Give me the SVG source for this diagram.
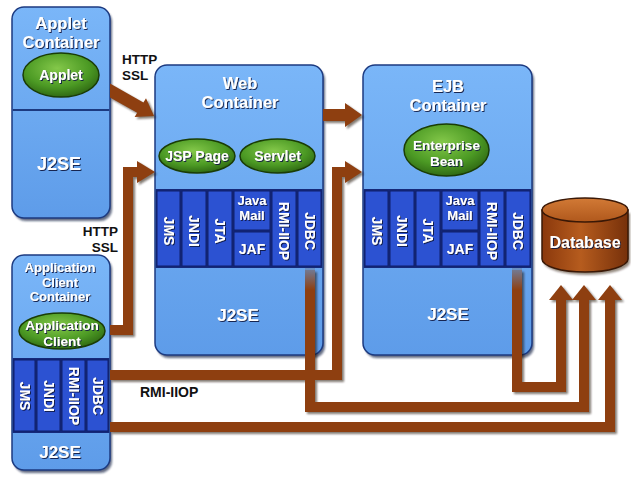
<svg xmlns="http://www.w3.org/2000/svg" width="631" height="480" viewBox="0 0 631 480">
<defs>
<linearGradient id="cont" x1="0" y1="0" x2="0" y2="1">
<stop offset="0" stop-color="#7ab6f8"/><stop offset="1" stop-color="#5e9ce9"/>
</linearGradient>
<radialGradient id="green" cx="0.45" cy="0.35" r="0.7">
<stop offset="0" stop-color="#84c84a"/><stop offset="0.6" stop-color="#4c9a24"/><stop offset="1" stop-color="#2a6010"/>
</radialGradient>
<linearGradient id="dbbody" x1="0" y1="0" x2="1" y2="0">
<stop offset="0" stop-color="#8a380c"/><stop offset="0.45" stop-color="#b65c1e"/><stop offset="1" stop-color="#76300a"/>
</linearGradient>
<linearGradient id="dbtop" x1="0" y1="0" x2="0" y2="1">
<stop offset="0" stop-color="#d27a36"/><stop offset="1" stop-color="#b0581c"/>
</linearGradient>
<linearGradient id="fade" x1="0" y1="0" x2="0" y2="1">
<stop offset="0" stop-color="#6a8ab8" stop-opacity="0.85"/><stop offset="1" stop-color="#6a8ab8" stop-opacity="0"/>
</linearGradient>
<filter id="sh" x="-10%" y="-10%" width="130%" height="130%"><feGaussianBlur stdDeviation="1.2"/></filter>
<filter id="ts" x="-10%" y="-20%" width="130%" height="150%"><feDropShadow dx="1" dy="1" stdDeviation="0.5" flood-color="#0a1840" flood-opacity="0.9"/></filter>
</defs>
<style>
.t{font-family:"Liberation Sans",Arial,Helvetica,sans-serif;font-weight:bold;}
.w{fill:#fff;filter:url(#ts);}
.k{fill:#111;}
.cont{fill:url(#cont);stroke:#1c3a80;stroke-width:1.5;}
.csh{fill:#0c1a40;opacity:.65;filter:url(#sh);}
.band{fill:#15297a;}
.col{fill:#2c52d2;stroke:#0e1f6a;stroke-width:1;}
.ell{fill:url(#green);stroke:#1a3d06;stroke-width:1.5;}
.div{stroke:#1c3a80;stroke-width:2;}
</style>
<rect width="631" height="480" fill="#fff"/>

<g id="applet-container">
<rect class="csh" x="14" y="10" width="98" height="211" rx="12"/>
<rect class="cont" x="12" y="7" width="98" height="211" rx="12"/>
<line class="div" x1="12.75" y1="110" x2="109.25" y2="110"/>
<text class="t w" x="61" y="28.5" font-size="16.5" text-anchor="middle">Applet</text>
<text class="t w" x="61" y="47.5" font-size="16.5" text-anchor="middle">Container</text>
<text class="t w" x="59" y="170" font-size="18" text-anchor="middle">J2SE</text>
</g>

<g id="web-container">
<rect class="csh" x="157" y="68" width="168" height="290" rx="12"/>
<rect class="cont" x="155" y="65" width="168" height="290" rx="12"/>
<rect class="band" x="155.75" y="189" width="166.5" height="79"/>
<rect class="col" x="157" y="191" width="23" height="75"/>
<rect class="col" x="182" y="191" width="24" height="75"/>
<rect class="col" x="208" y="191" width="24" height="75"/>
<rect class="col" x="234" y="191" width="36" height="39"/>
<rect class="col" x="234" y="232" width="36" height="34"/>
<rect class="col" x="272" y="191" width="24" height="75"/>
<rect class="col" x="298" y="191" width="23" height="75"/>
<text class="t w" x="240" y="88.5" font-size="16.5" text-anchor="middle">Web</text>
<text class="t w" x="240" y="107.5" font-size="16.5" text-anchor="middle">Container</text>
<g font-size="14" class="t w" text-anchor="middle" dominant-baseline="central">
<text transform="translate(168.5,231) rotate(90)">JMS</text>
<text transform="translate(194,231) rotate(90)">JNDI</text>
<text transform="translate(220,231) rotate(90)">JTA</text>
<text transform="translate(284,231) rotate(90)">RMI-IIOP</text>
<text transform="translate(309.5,231) rotate(90)">JDBC</text>
</g>
<text class="t w" x="252" y="205" font-size="13" text-anchor="middle">Java</text>
<text class="t w" x="252" y="220" font-size="13" text-anchor="middle">Mail</text>
<text class="t w" x="252" y="254" font-size="14" text-anchor="middle">JAF</text>
<text class="t w" x="238" y="321" font-size="17" text-anchor="middle">J2SE</text>
</g>

<g id="ejb-container">
<rect class="csh" x="365" y="68" width="169" height="290" rx="12"/>
<rect class="cont" x="363" y="65" width="169" height="290" rx="12"/>
<rect class="band" x="363.75" y="189" width="167.5" height="79"/>
<rect class="col" x="365" y="191" width="23" height="75"/>
<rect class="col" x="390" y="191" width="24" height="75"/>
<rect class="col" x="416" y="191" width="24" height="75"/>
<rect class="col" x="442" y="191" width="36" height="39"/>
<rect class="col" x="442" y="232" width="36" height="34"/>
<rect class="col" x="480" y="191" width="24" height="75"/>
<rect class="col" x="506" y="191" width="24" height="75"/>
<text class="t w" x="448" y="92" font-size="16.5" text-anchor="middle">EJB</text>
<text class="t w" x="448" y="111" font-size="16.5" text-anchor="middle">Container</text>
<g font-size="14" class="t w" text-anchor="middle" dominant-baseline="central">
<text transform="translate(376.5,231) rotate(90)">JMS</text>
<text transform="translate(402,231) rotate(90)">JNDI</text>
<text transform="translate(428,231) rotate(90)">JTA</text>
<text transform="translate(492,231) rotate(90)">RMI-IIOP</text>
<text transform="translate(518,231) rotate(90)">JDBC</text>
</g>
<text class="t w" x="460" y="205" font-size="13" text-anchor="middle">Java</text>
<text class="t w" x="460" y="220" font-size="13" text-anchor="middle">Mail</text>
<text class="t w" x="460" y="254" font-size="14" text-anchor="middle">JAF</text>
<text class="t w" x="448" y="320" font-size="17" text-anchor="middle">J2SE</text>
</g>

<g id="appclient-container">
<rect class="csh" x="14" y="258" width="98" height="215" rx="12"/>
<rect class="cont" x="12" y="255" width="98" height="215" rx="12"/>
<rect class="band" x="12.75" y="358" width="96.5" height="75"/>
<rect class="col" x="14" y="360" width="21" height="71"/>
<rect class="col" x="37" y="360" width="23" height="71"/>
<rect class="col" x="62" y="360" width="23" height="71"/>
<rect class="col" x="87" y="360" width="21" height="71"/>
<text class="t w" x="60" y="272" font-size="13" text-anchor="middle">Application</text>
<text class="t w" x="60" y="286.5" font-size="13" text-anchor="middle">Client</text>
<text class="t w" x="60" y="301" font-size="13" text-anchor="middle">Container</text>
<g font-size="14" class="t w" text-anchor="middle" dominant-baseline="central">
<text transform="translate(24.5,396) rotate(90)">JMS</text>
<text transform="translate(48.5,396) rotate(90)">JNDI</text>
<text transform="translate(73.5,396) rotate(90)">RMI-IIOP</text>
<text transform="translate(97.5,396) rotate(90)">JDBC</text>
</g>
<text class="t w" x="60" y="458" font-size="17" text-anchor="middle">J2SE</text>
</g>

<g id="applet">
<ellipse class="ell" cx="61" cy="75" rx="38" ry="22"/>
<text class="t w" x="61" y="80" font-size="14" text-anchor="middle">Applet</text>
</g>
<g id="jsp-page">
<ellipse class="ell" cx="197" cy="156" rx="38" ry="17"/>
<text class="t w" x="197" y="161" font-size="14" text-anchor="middle">JSP Page</text>
</g>
<g id="servlet">
<ellipse class="ell" cx="277.5" cy="156" rx="37.5" ry="17"/>
<text class="t w" x="277.5" y="161" font-size="14" text-anchor="middle">Servlet</text>
</g>
<g id="enterprise-bean">
<ellipse class="ell" cx="446.5" cy="150" rx="42.5" ry="26"/>
<text class="t w" x="446.5" y="150" font-size="13.5" text-anchor="middle">Enterprise</text>
<text class="t w" x="446.5" y="165.5" font-size="13.5" text-anchor="middle">Bean</text>
</g>
<g id="application-client">
<ellipse class="ell" cx="62" cy="331" rx="43" ry="18"/>
<text class="t w" x="62" y="330" font-size="13.5" text-anchor="middle">Application</text>
<text class="t w" x="62" y="345.5" font-size="13.5" text-anchor="middle">Client</text>
</g>

<g id="database">
<path d="M544,213 L544,262 A43,13 0 0 0 630,262 L630,213 Z" fill="#2a1205" opacity=".5" filter="url(#sh)"/>
<path d="M542,210 L542,259 A43,13 0 0 0 628,259 L628,210 Z" fill="url(#dbbody)" stroke="#3a1806" stroke-width="1.5"/>
<ellipse cx="585" cy="210" rx="43" ry="12" fill="url(#dbtop)" stroke="#3a1806" stroke-width="1.5"/>
<text class="t w" x="585" y="248" font-size="16" text-anchor="middle">Database</text>
</g>

<g id="connectors">
<use href="#pl" transform="translate(2,2)" fill="none" stroke="#1a0c04" stroke-width="10" opacity=".55" filter="url(#sh)"/>
<use href="#ph" transform="translate(2,2)" fill="#1a0c04" opacity=".55" filter="url(#sh)"/>
<g fill="none" stroke="#8e3f10" stroke-width="10" stroke-linejoin="miter">
<g id="pl">
<path d="M110,330 H128 V172 H139"/>
<path d="M110,375 H337 V172 H346"/>
<path d="M310,270 V407 H584 V299"/>
<path d="M517,270 V387 H561 V299"/>
<path d="M110,427 H610 V299"/>
</g>
</g>
<g fill="#8e3f10">
<g id="ph">
<polygon points="110,83.5 143.4,102.6 146,98.3 154,116 134.6,117.1 137.2,112.8 110,97.5"/>
<polygon points="323,109 345,109 345,103 362,115 345,127 345,121 323,121"/>
<polygon points="137,161 155,172 137,183"/>
<polygon points="345,161 362,172 345,183"/>
<polygon points="572,300 584,285 596,300"/>
<polygon points="549,300 561,285 573,300"/>
<polygon points="598,300 610,285 622,300"/>
</g>
</g>
<rect x="305" y="268" width="10" height="22" fill="url(#fade)"/>
<rect x="512" y="268" width="10" height="22" fill="url(#fade)"/>
</g>

<g id="labels">
<text class="t k" x="122" y="64" font-size="13.5">HTTP</text>
<text class="t k" x="122" y="79.5" font-size="13.5">SSL</text>
<text class="t k" x="118" y="236" font-size="13.5" text-anchor="end">HTTP</text>
<text class="t k" x="118" y="251.5" font-size="13.5" text-anchor="end">SSL</text>
<text class="t k" x="140" y="397" font-size="14">RMI-IIOP</text>
</g>
</svg>
